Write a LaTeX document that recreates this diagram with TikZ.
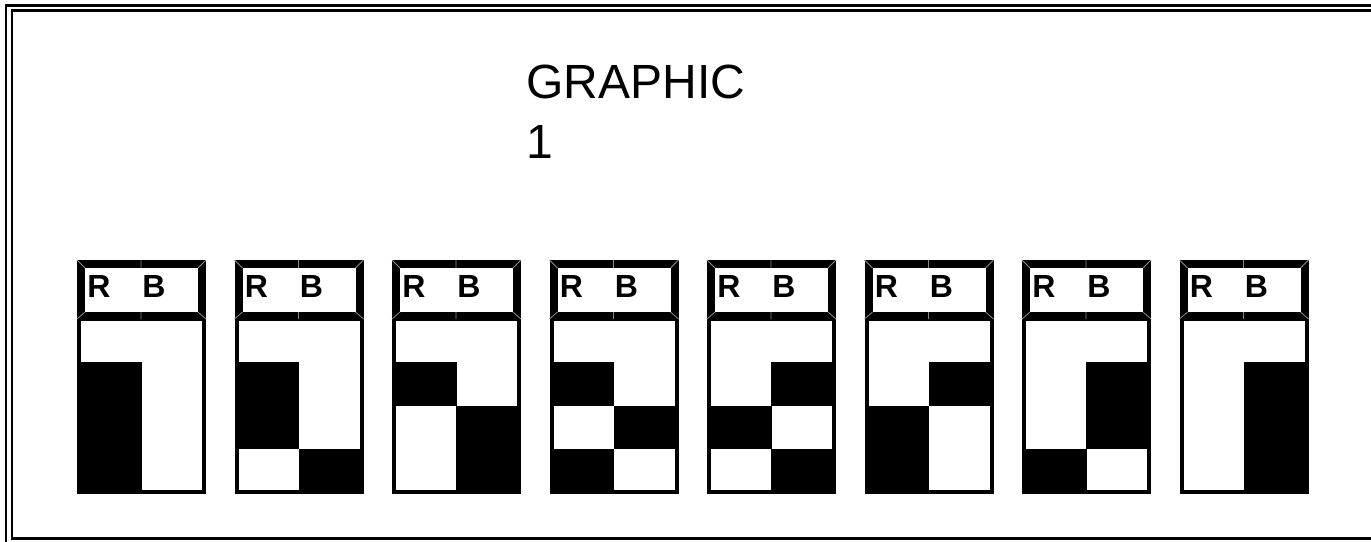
\documentclass[tikz,border=0pt]{standalone}
\usepackage{fontspec}
\setmainfont{Liberation Sans}
\usepackage{xcolor}
\definecolor{Ink}{HTML}{000000}
\definecolor{Edge}{HTML}{8A8A8A}

\begin{document}
\begin{tikzpicture}[x=0.5pt,y=-0.5pt,
    fr/.style={draw=Ink,line width=1.4pt},
    bd/.style={draw=Ink,line width=2pt},
    hdr/.style={fill=Ink},
    bev/.style={draw=Edge,line width=0.4pt},
    lbl/.style={font=\fontsize{16}{18}\selectfont\bfseries,inner sep=0,anchor=base west},
    ttl/.style={font=\fontsize{24}{30}\selectfont,inner sep=0,anchor=base west}
  ]
    \useasboundingbox (0,0) rectangle (1371,541);
    \clip (0,0) rectangle (1371,541);
    \fill[white] (0,0) rectangle (1371,541);
    % double frame
    \draw[fr] (6,5.5) rectangle (1400,580);
    \draw[fr] (12,10.5) rectangle (1400,538.5);
    \node[ttl] (title) at (526,98) {GRAPHIC};
    \node[ttl] (num) at (526,158) {1};
    % the eight cards, black cell of rows 2-4 (0 = R side, 1 = B side)
    \foreach \pat [count=\i from 0] in {{0,0,0},{0,0,1},{0,1,1},{0,1,0},{1,0,1},{1,0,0},{1,1,0},{1,1,1}} {
      \pgfmathsetmacro\xa{77+157.5*\i}
      \foreach \c [count=\r] in \pat
        \fill[Ink] (\xa+64*\c,318+43.75*\r) rectangle ++(64.5,43.75);
      \draw[bd] (\xa+2,319) rectangle (\xa+127,491.5);
      \fill[hdr] (\xa,260) rectangle ++(129,59);
      \fill[white] (\xa+8,268) rectangle ++(113,44);
      \draw[bev] (\xa,260) -- ++(8,8) (\xa+129,260) -- ++(-8,8)
        (\xa,319) -- ++(8,-7) (\xa+129,319) -- ++(-8,-7)
        (\xa+64,260) -- ++(0,8) (\xa+64,312) -- ++(0,7);
      \node[lbl] (r\i) at (\xa+10,297) {R};
      \node[lbl] (b\i) at (\xa+65,297) {B};
    }
  \end{tikzpicture}
\end{document}
